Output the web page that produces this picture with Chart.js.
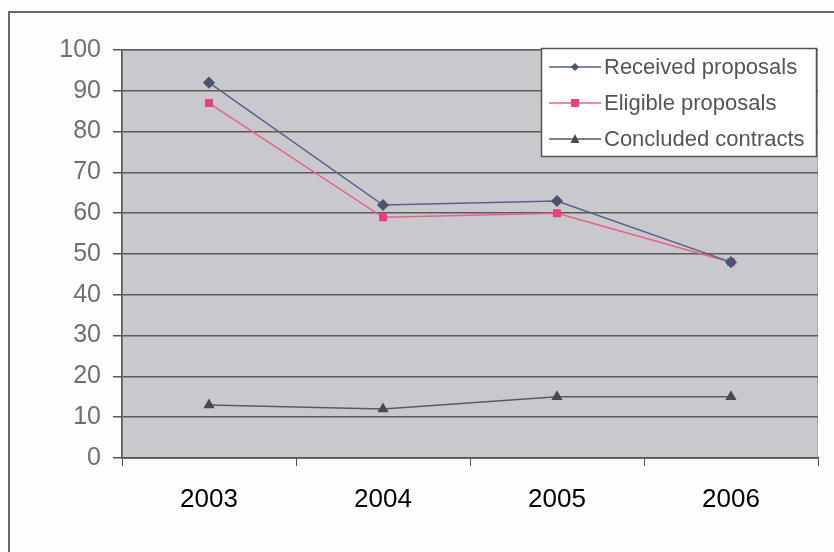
<!DOCTYPE html>
<html>
<head>
<meta charset="utf-8">
<script src="https://cdn.jsdelivr.net/npm/chart.js@4/dist/chart.umd.min.js"></script>
<style>
  html, body { margin: 0; padding: 0; background: #fdfdfd; }
  #wrap { width: 834px; height: 552px; position: relative; }
</style>
</head>
<body>
<div id="wrap"><canvas id="c" width="834" height="552"></canvas></div>
<script>
// Proposal and contract counts per year
const years = ['2003', '2004', '2005', '2006'];
const receivedProposals = [92, 62, 63, 48];
const eligibleProposals = [87, 59, 60, 48];
const concludedContracts = [13, 12, 15, 15];
const yTicks = [0, 10, 20, 30, 40, 50, 60, 70, 80, 90, 100];

const FONT = '"Liberation Sans", Arial, sans-serif';

// Outer frame and grey plot background
const framePlugin = {
  id: 'frame',
  beforeDraw(chart) {
    const { ctx, chartArea: a } = chart;
    ctx.save();
    ctx.fillStyle = '#fdfdfd';
    ctx.fillRect(0, 0, chart.width, chart.height);
    ctx.strokeStyle = '#6a6a6a';
    ctx.lineWidth = 2;
    ctx.beginPath();
    ctx.moveTo(9, chart.height);
    ctx.lineTo(9, 12);
    ctx.lineTo(chart.width, 12);
    ctx.stroke();
    ctx.fillStyle = '#c9c9cd';
    ctx.fillRect(a.left, a.top, a.right - a.left, a.bottom - a.top);
    ctx.strokeStyle = '#a8a8a8';
    ctx.lineWidth = 1;
    ctx.strokeRect(a.left + 0.5, a.top + 0.5, a.right - a.left - 1, a.bottom - a.top);
    ctx.restore();
  }
};

// Boxed legend in the upper right of the plot
const boxLegend = {
  id: 'boxLegend',
  afterDatasetsDraw(chart) {
    const { ctx } = chart;
    const x0 = 541, y0 = 48, w = 275, h = 108;
    ctx.save();
    ctx.fillStyle = '#ffffff';
    ctx.fillRect(x0, y0, w, h);
    ctx.strokeStyle = '#555';
    ctx.lineWidth = 1.5;
    ctx.strokeRect(x0 + 0.5, y0 + 0.5, w, h);
    ctx.font = '22px ' + FONT;
    ctx.textBaseline = 'middle';
    chart.data.datasets.forEach((ds, i) => {
      const y = y0 + 19 + i * 36;
      ctx.strokeStyle = ds.borderColor;
      ctx.lineWidth = 1.5;
      ctx.beginPath();
      ctx.moveTo(x0 + 8, y);
      ctx.lineTo(x0 + 60, y);
      ctx.stroke();
      ctx.fillStyle = ds.pointBackgroundColor;
      const mx = x0 + 34;
      ctx.beginPath();
      if (ds.pointStyle === 'rectRot') {
        ctx.moveTo(mx, y - 4); ctx.lineTo(mx + 4, y); ctx.lineTo(mx, y + 4); ctx.lineTo(mx - 4, y);
      } else if (ds.pointStyle === 'rect') {
        ctx.rect(mx - 4, y - 4, 8, 8);
      } else {
        ctx.moveTo(mx, y - 5); ctx.lineTo(mx + 4.5, y + 4); ctx.lineTo(mx - 4.5, y + 4);
      }
      ctx.closePath();
      ctx.fill();
      ctx.fillStyle = '#555';
      ctx.fillText(ds.label, x0 + 63, y + 1);
    });
    ctx.restore();
  }
};

new Chart(document.getElementById('c'), {
  type: 'line',
  data: {
    labels: years,
    datasets: [
      {
        label: 'Received proposals',
        data: receivedProposals,
        borderColor: '#56608a',
        pointBackgroundColor: '#4a5470',
        pointBorderColor: '#4a5470',
        pointStyle: 'rectRot',
        pointRadius: 5,
        borderWidth: 1.5
      },
      {
        label: 'Eligible proposals',
        data: eligibleProposals,
        borderColor: '#e8608c',
        pointBackgroundColor: '#e8407a',
        pointBorderColor: '#e8407a',
        pointStyle: 'rect',
        pointRadius: 4.5,
        borderWidth: 1.5
      },
      {
        label: 'Concluded contracts',
        data: concludedContracts,
        borderColor: '#555a60',
        pointBackgroundColor: '#444a50',
        pointBorderColor: '#444a50',
        pointStyle: 'triangle',
        pointRadius: 5,
        borderWidth: 1.5
      }
    ]
  },
  options: {
    responsive: false,
    animation: false,
    devicePixelRatio: 1,
    layout: { padding: { left: 0, top: 50, right: 16, bottom: 0 } },
    plugins: {
      legend: { display: false },
      tooltip: { enabled: false }
    },
    scales: {
      x: {
        offset: true,
        grid: {
          offset: true,
          drawOnChartArea: false,
          drawTicks: true,
          tickLength: 8,
          color: '#555'
        },
        border: { color: '#555', width: 1.5 },
        ticks: {
          color: '#000',
          font: { family: FONT, size: 26 },
          padding: 18
        },
        afterFit(s) { s.height = 94; }
      },
      y: {
        min: 0,
        max: 100,
        afterBuildTicks(s) { s.ticks = yTicks.map(v => ({ value: v })); },
        grid: {
          color: '#5a5a5a',
          lineWidth: 1.5,
          tickLength: 9,
          tickColor: '#555'
        },
        border: { color: '#555', width: 1.5 },
        ticks: {
          color: '#707070',
          font: { family: FONT, size: 25 },
          padding: 12
        },
        afterFit(s) { s.width = 122; }
      }
    }
  },
  plugins: [framePlugin, boxLegend]
});
</script>
</body>
</html>
